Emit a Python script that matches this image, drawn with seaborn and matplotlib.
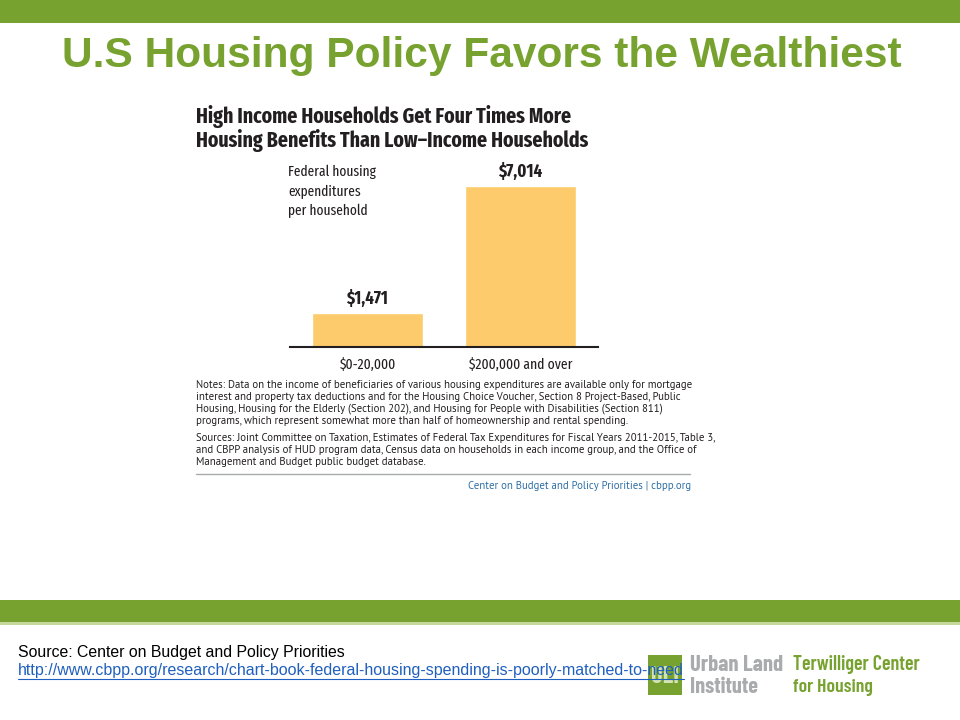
import matplotlib
matplotlib.use("Agg")
import matplotlib.pyplot as plt
import seaborn as sns
import pandas as pd
from matplotlib.patches import Rectangle
from matplotlib import font_manager

# --- data ---
groups = ["$0-20,000", "$200,000 and over"]
spending = [1471, 7014]
value_labels = ["$1,471", "$7,014"]
y_label_lines = ["Federal housing", "expenditures", "per household"]

GREEN = "#77a22f"
BAR = "#fdcb6b"
DARK = "#231f20"
BLUE = "#2e6ea6"

sns.set_style("white")
installed = {f.name for f in font_manager.fontManager.ttflist}


def pick(*prefs):
    for p in prefs:
        if p in installed:
            return [p, "DejaVu Sans"]
    return ["DejaVu Sans"]


NARROW = pick("Fira Sans Extra Condensed", "PT Sans Narrow", "Roboto Condensed", "Liberation Sans")
BODY = pick("PT Sans", "Liberation Sans")
ARIAL = pick("Liberation Sans", "Arimo")
LOGO = pick("Barlow Condensed", "Roboto Condensed", "Liberation Sans")
plt.rcParams["font.family"] = NARROW

W, H = 960, 720
fig = plt.figure(figsize=(9.6, 7.2), dpi=100)
renderer = fig.canvas.get_renderer()


def px(x, y):
    return x / W, 1 - y / H


def size_for(s, width, **kw):
    # font size that makes the text span the given pixel width
    t = fig.text(0, 0, s, fontsize=10, **kw)
    w = t.get_window_extent(renderer).width
    t.remove()
    return 10 * width / w


# green bands
fig.add_artist(Rectangle(px(0, 23), 1, 23 / H, transform=fig.transFigure, color=GREEN, lw=0))
fig.add_artist(Rectangle(px(0, 622), 1, 22 / H, transform=fig.transFigure, color=GREEN, lw=0))
fig.add_artist(Rectangle(px(0, 625), 1, 3 / H, transform=fig.transFigure, color="#c5d99b", lw=0))

# slide title
title = "U.S Housing Policy Favors the Wealthiest"
fig.text(*px(482, 56), title, family=ARIAL, fontweight="bold", color=GREEN, ha="center", va="center",
         fontsize=size_for(title, 841, family=ARIAL, fontweight="bold"))

# chart title
ct2 = "Housing Benefits Than Low\u2013Income Households"
cfs = size_for(ct2, 394, fontweight="bold")
fig.text(*px(196, 116), "High Income Households Get Four Times More", fontsize=cfs,
         fontweight="bold", color=DARK, ha="left", va="center")
fig.text(*px(196, 141), ct2, fontsize=cfs, fontweight="bold", color=DARK, ha="left", va="center")

# bar chart
df = pd.DataFrame({"group": groups, "spending": spending})
ymax = 8000
top_px = 347 - ymax * 161 / 7014
ax = fig.add_axes([290 / W, 1 - 347 / H, 308 / W, (347 - top_px) / H])
sns.barplot(data=df, x="group", y="spending", color=BAR, saturation=1, width=0.725, ax=ax)
ax.set_xlim(-0.506, 1.506)
ax.set_ylim(0, ymax)
for sp in ["top", "right", "left"]:
    ax.spines[sp].set_visible(False)
ax.spines["bottom"].set_color(DARK)
ax.spines["bottom"].set_linewidth(1.5)
ax.set_yticks([])
ax.set_xlabel("")
ax.set_ylabel("")
ax.tick_params(axis="x", length=0, pad=8, labelsize=size_for(groups[1], 104), colors=DARK)
ax.bar_label(ax.containers[0], labels=value_labels, padding=4,
             fontsize=size_for(value_labels[0], 42, fontweight="bold"),
             fontweight="bold", color=DARK)

yfs = size_for(y_label_lines[0], 88)
for i, line in enumerate(y_label_lines):
    fig.text(*px(288, 172 + 19.5 * i), line, fontsize=yfs, color=DARK, ha="left", va="center")

# notes
notes = [
    "Notes: Data on the income of beneficiaries of various housing expenditures are available only for mortgage",
    "interest and property tax deductions and for the Housing Choice Voucher, Section 8 Project-Based, Public",
    "Housing, Housing for the Elderly (Section 202), and Housing for People with Disabilities (Section 811)",
    "programs, which represent somewhat more than half of homeownership and rental spending.",
]
sources = [
    "Sources: Joint Committee on Taxation, Estimates of Federal Tax Expenditures for Fiscal Years 2011-2015, Table 3,",
    "and CBPP analysis of HUD program data, Census data on households in each income group, and the Office of",
    "Management and Budget public budget database.",
]
fs = size_for(notes[0], 494, family=BODY)
for i, line in enumerate(notes):
    fig.text(*px(196, 385 + 12 * i), line, family=BODY, fontsize=fs, color=DARK, ha="left", va="center")
for i, line in enumerate(sources):
    fig.text(*px(196, 438 + 12 * i), line, family=BODY, fontsize=fs, color=DARK, ha="left", va="center")
fig.add_artist(plt.Line2D([196 / W, 690 / W], [1 - 474 / H] * 2, transform=fig.transFigure,
                          color="#a7a9ac", lw=1))
fig.text(*px(691, 486), "Center on Budget and Policy Priorities | cbpp.org", family=BODY, fontsize=fs,
         color=BLUE, ha="right", va="center")

# footer
src = "Source: Center on Budget and Policy Priorities"
fig.text(*px(18, 652), src, family=ARIAL, color="black", ha="left", va="center",
         fontsize=size_for(src, 329, family=ARIAL))
url = "http://www.cbpp.org/research/chart-book-federal-housing-spending-is-poorly-matched-to-need"
fig.text(*px(18, 671), url, family=ARIAL, color="#1f5fbf", ha="left", va="center",
         fontsize=size_for(url, 666, family=ARIAL))
fig.add_artist(plt.Line2D([18 / W, 684 / W], [1 - 679 / H] * 2, transform=fig.transFigure,
                          color="#1f5fbf", lw=0.8))

# logo
fig.add_artist(Rectangle(px(648, 695), 34 / W, 40 / H, transform=fig.transFigure, color=GREEN, lw=0,
                         zorder=0))
fig.text(*px(665, 677), "ULI", family=LOGO, fontsize=size_for("ULI", 28, family=LOGO, fontweight="bold"),
         fontweight="bold", color="#d4e3b5", ha="center", va="center", zorder=0)
for txt, y, w in [("Urban Land", 665, 93), ("Institute", 687, 68)]:
    fig.text(*px(690, y), txt, family=LOGO, fontsize=size_for(txt, w, family=LOGO, fontweight="bold"),
             fontweight="bold", color="#a9abae", ha="left", va="center")
for txt, y, w in [("Terwilliger Center", 665, 127), ("for Housing", 687, 80)]:
    fig.text(*px(793, y), txt, family=LOGO, fontsize=size_for(txt, w, family=LOGO, fontweight="semibold"),
             fontweight="semibold", color=GREEN, ha="left", va="center")

fig.savefig("out.png", dpi=100)
